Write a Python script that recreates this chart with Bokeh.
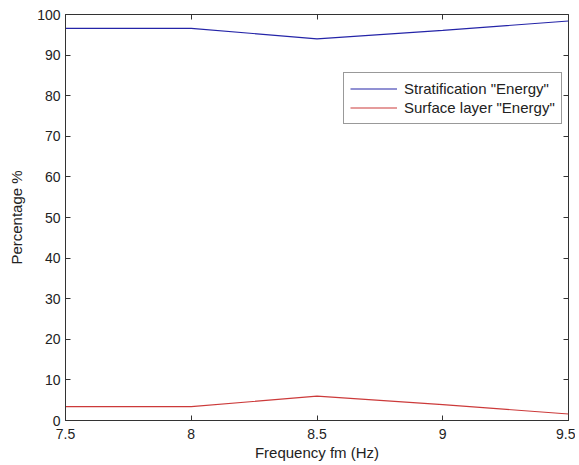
from bokeh.plotting import figure
from bokeh.models import LinearAxis, FixedTicker, CustomJSTickFormatter, Range1d, Legend, LegendItem
from bokeh.embed import file_html
from bokeh.resources import INLINE

freq = [7.5, 8.0, 8.5, 9.0, 9.5]
strat_energy = [96.6, 96.6, 94.0, 96.1, 98.4]
surface_energy = [3.4, 3.4, 6.0, 3.9, 1.6]
x_ticks = [7.5, 8.0, 8.5, 9.0, 9.5]
y_ticks = [0, 10, 20, 30, 40, 50, 60, 70, 80, 90, 100]

FONT = "Liberation Sans"
TXT = "#222222"

p = figure(width=575, height=460, output_backend="svg", toolbar_location=None,
           x_range=Range1d(7.5, 9.5), y_range=Range1d(0, 100),
           min_border_left=65, min_border_right=7, min_border_top=14, min_border_bottom=40,
           x_axis_label="Frequency fm (Hz)", y_axis_label="Percentage %")
p.frame_width = 503
p.frame_height = 406
p.xgrid.visible = False
p.ygrid.visible = False
p.outline_line_color = "#333333"
p.outline_line_width = 1
p.background_fill_color = "white"
p.border_fill_color = "white"

l1 = p.line(freq, strat_energy, line_color="#2424a8", line_width=1.2)
l2 = p.line(freq, surface_energy, line_color="#cc3a3a", line_width=1.2)

for ax in (p.xaxis[0], p.yaxis[0]):
    ax.axis_line_color = "#333333"
    ax.major_tick_line_color = "#333333"
    ax.major_tick_in = 5
    ax.major_tick_out = 0
    ax.minor_tick_line_color = None
    ax.major_label_text_font = FONT
    ax.major_label_text_font_size = "14px"
    ax.major_label_text_color = TXT
    ax.axis_label_text_font = FONT
    ax.axis_label_text_font_size = "15px"
    ax.axis_label_text_font_style = "normal"
    ax.axis_label_text_color = TXT
p.xaxis[0].ticker = FixedTicker(ticks=x_ticks)
p.yaxis[0].ticker = FixedTicker(ticks=y_ticks)
p.xaxis[0].major_label_standoff = 8
p.yaxis[0].major_label_standoff = 5
p.xaxis[0].axis_label_standoff = 2
p.yaxis[0].axis_label_standoff = 9

blank = CustomJSTickFormatter(code="return ''")
right = LinearAxis(ticker=FixedTicker(ticks=y_ticks), formatter=blank)
top = LinearAxis(ticker=FixedTicker(ticks=x_ticks), formatter=blank)
for ax in (right, top):
    ax.axis_line_color = None
    ax.major_tick_line_color = "#333333"
    ax.major_tick_in = 5
    ax.major_tick_out = 0
    ax.minor_tick_line_color = None
    ax.major_label_text_font_size = "0px"
    ax.major_label_standoff = 0
p.add_layout(right, "right")
p.add_layout(top, "above")

legend = Legend(items=[LegendItem(label='Stratification "Energy"', renderers=[l1]),
                       LegendItem(label='Surface layer "Energy"', renderers=[l2])],
                location=(278, 296))
legend.label_text_font = FONT
legend.label_text_font_size = "15px"
legend.label_text_color = TXT
legend.border_line_color = "#333333"
legend.border_line_width = 1
legend.glyph_width = 47
legend.glyph_height = 19
legend.label_height = 19
legend.spacing = 0
legend.padding = 6
legend.margin = 0
legend.label_standoff = 7
p.add_layout(legend, "center")

open("out.html", "w").write(file_html(p, INLINE))
